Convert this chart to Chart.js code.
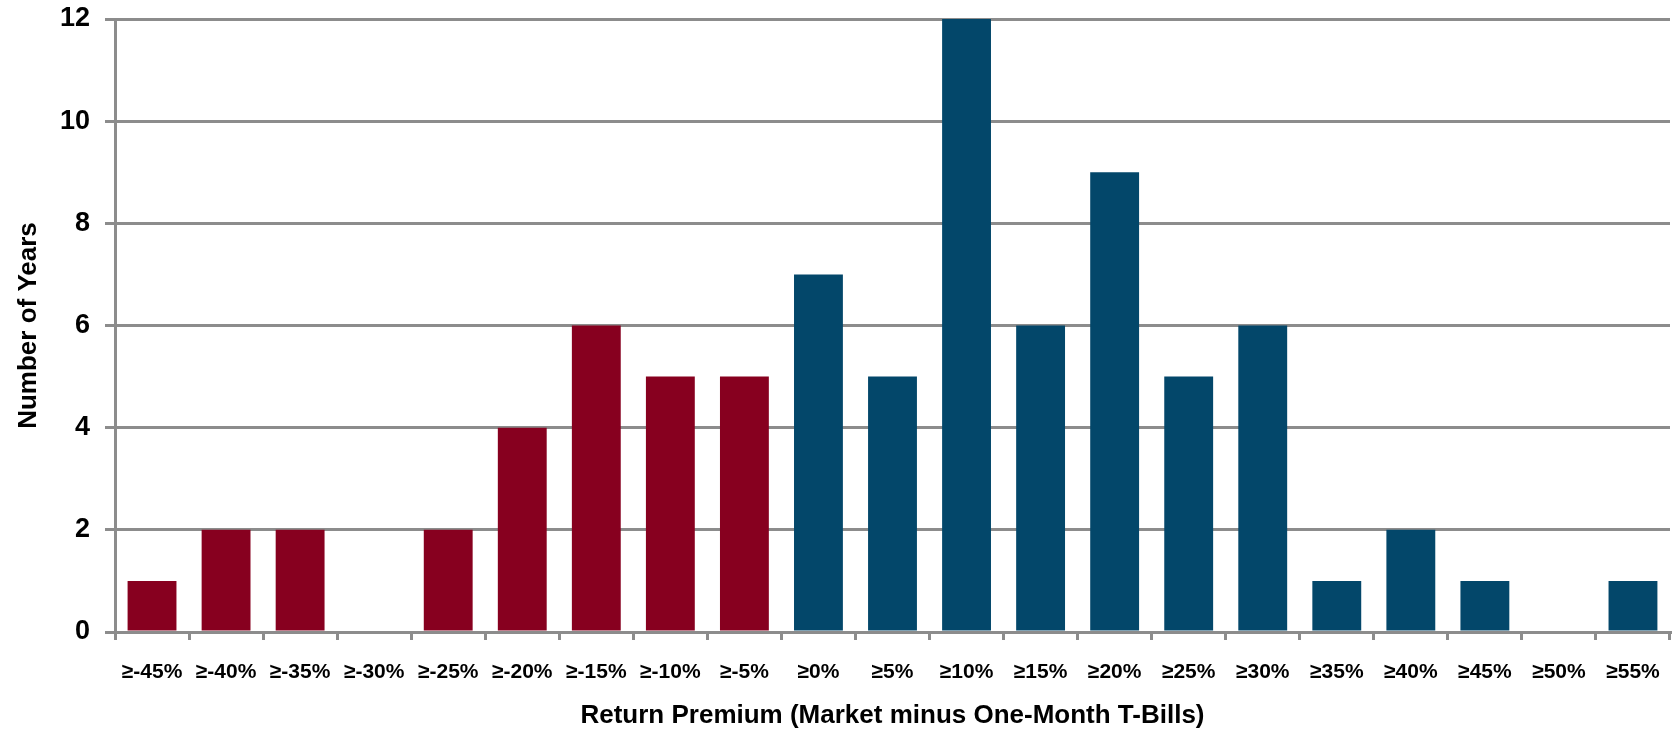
<!DOCTYPE html>
<html>
<head>
<meta charset="utf-8">
<script src="https://cdn.jsdelivr.net/npm/chart.js@4"></script>
<style>
  body { margin: 0; background: #fff; }
  #chart { display: block; }
</style>
</head>
<body>
<canvas id="chart" width="1673" height="732"></canvas>
<script>
// Données
const categories = ['≥-45%', '≥-40%', '≥-35%', '≥-30%', '≥-25%', '≥-20%', '≥-15%', '≥-10%', '≥-5%',
    '≥0%', '≥5%', '≥10%', '≥15%', '≥20%', '≥25%', '≥30%', '≥35%', '≥40%', '≥45%', '≥50%', '≥55%'];
const yearCounts = [1, 2, 2, 0, 2, 4, 6, 5, 5, 7, 5, 12, 6, 9, 5, 6, 1, 2, 1, 0, 1];
const negativeBins = 9; // les 9 premières classes sont négatives
const yTicks = [0, 2, 4, 6, 8, 10, 12];

const RED = '#87001f';
const BLUE = '#03476a';
const GRID = '#8c8c8c';
const FONT = 'Liberation Sans, Arial, sans-serif';

const barColors = categories.map((_, i) => i < negativeBins ? RED : BLUE);

const ctx = document.getElementById('chart').getContext('2d');
new Chart(ctx, {
    type: 'bar',
    data: {
        labels: categories,
        datasets: [{
            data: yearCounts,
            backgroundColor: barColors,
            borderWidth: 0,
            barPercentage: 0.66,
            categoryPercentage: 1
        }]
    },
    options: {
        responsive: false,
        animation: false,
        layout: { padding: 0 },
        plugins: { legend: { display: false }, tooltip: { enabled: false } },
        scales: {
            x: {
                offset: true,
                grid: { offset: true, drawOnChartArea: false, drawTicks: true, tickLength: 8, color: GRID, lineWidth: 3 },
                border: { color: GRID, width: 3 },
                ticks: { color: '#000', padding: 20, maxRotation: 0, autoSkip: false, font: { family: FONT, size: 21, weight: 'bold' } },
                title: {
                    display: true,
                    text: 'Return Premium (Market minus One-Month T-Bills)',
                    color: '#000',
                    padding: { top: 0, bottom: 1 },
                    font: { family: FONT, size: 26, weight: 'bold' }
                },
                afterFit: (scale) => {
                    scale.height = 100;
                    scale.paddingLeft = 0;
                    scale.paddingRight = 3;
                }
            },
            y: {
                min: 0,
                max: 12,
                afterBuildTicks: (scale) => { scale.ticks = yTicks.map(v => ({ value: v })); },
                grid: { color: GRID, lineWidth: 3, drawTicks: true, tickLength: 10 },
                border: { color: GRID, width: 3 },
                ticks: { color: '#000', padding: 15, font: { family: FONT, size: 27, weight: 'bold' } },
                title: {
                    display: true,
                    text: 'Number of Years',
                    color: '#000',
                    padding: { top: 13, bottom: 0 },
                    font: { family: FONT, size: 26, weight: 'bold' }
                },
                afterFit: (scale) => {
                    scale.width = 115;
                    scale.paddingTop = 19;
                    scale.paddingBottom = 0;
                }
            }
        }
    }
});
</script>
</body>
</html>
